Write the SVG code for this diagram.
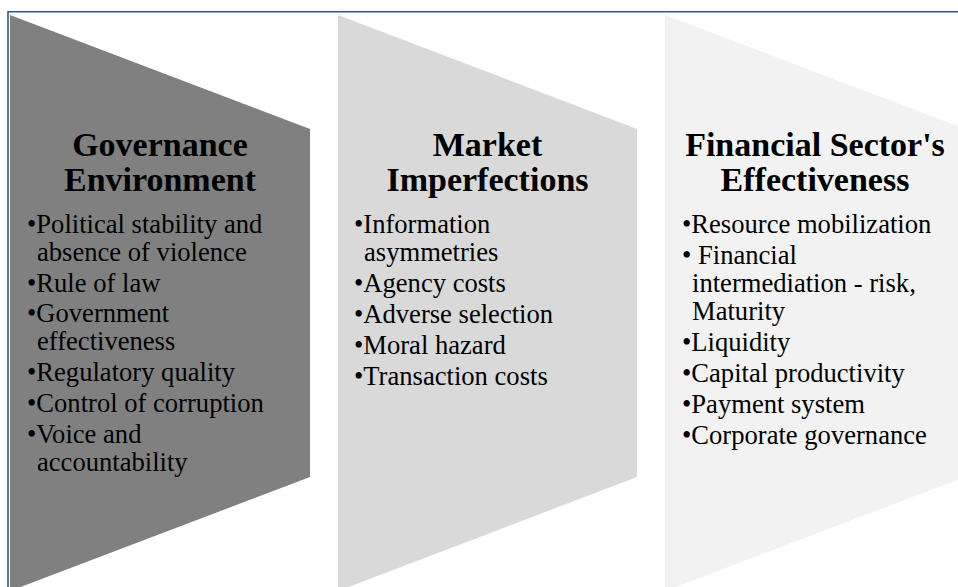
<svg xmlns="http://www.w3.org/2000/svg" width="958" height="587" viewBox="0 0 958 587">
  <style>
    .frame { fill: none; stroke: #2F5597; stroke-width: 1.6; }
    .title { font-family: "Liberation Serif", "Times New Roman", serif; font-weight: bold; font-size: 34px; fill: #000; text-anchor: middle; }
    .item { font-family: "Liberation Serif", "Times New Roman", serif; font-size: 26.6px; fill: #000; }
  </style>
  <rect width="958" height="587" fill="#FFFFFF"/>
  <!-- frame: top and left rules -->
  <path class="frame" d="M8,587 V11.7 H958"/>

  <!-- stage 1 -->
  <g id="governance">
    <polygon points="10,15 310,129 310,477 10,591" fill="#808080"/>
    <text class="title" x="160" y="156">Governance</text>
    <text class="title" x="160" y="191">Environment</text>
    <text class="item" x="27" y="233">•Political stability and</text>
    <text class="item" x="37" y="261">absence of violence</text>
    <text class="item" x="27" y="292">•Rule of law</text>
    <text class="item" x="27" y="322">•Government</text>
    <text class="item" x="37" y="350">effectiveness</text>
    <text class="item" x="27" y="381">•Regulatory quality</text>
    <text class="item" x="27" y="412">•Control of corruption</text>
    <text class="item" x="27" y="443">•Voice and</text>
    <text class="item" x="37" y="471">accountability</text>
  </g>

  <!-- stage 2 -->
  <g id="market">
    <polygon points="338,15 637,129 637,477 338,591" fill="#D9D9D9"/>
    <text class="title" x="487.5" y="156">Market</text>
    <text class="title" x="487.5" y="191">Imperfections</text>
    <text class="item" x="354" y="233">•Information</text>
    <text class="item" x="364" y="261">asymmetries</text>
    <text class="item" x="354" y="292">•Agency costs</text>
    <text class="item" x="354" y="323">•Adverse selection</text>
    <text class="item" x="354" y="354">•Moral hazard</text>
    <text class="item" x="354" y="385">•Transaction costs</text>
  </g>

  <!-- stage 3 -->
  <g id="financial">
    <polygon points="665,15 965,129 965,477 665,591" fill="#F2F2F2"/>
    <text class="title" x="815" y="156">Financial Sector's</text>
    <text class="title" x="815" y="191">Effectiveness</text>
    <text class="item" x="682" y="233">•Resource mobilization</text>
    <text class="item" x="682" y="264">• Financial</text>
    <text class="item" x="692" y="292">intermediation - risk,</text>
    <text class="item" x="692" y="320">Maturity</text>
    <text class="item" x="682" y="351">•Liquidity</text>
    <text class="item" x="682" y="382">•Capital productivity</text>
    <text class="item" x="682" y="413">•Payment system</text>
    <text class="item" x="682" y="444">•Corporate governance</text>
  </g>

  <g id="connectors"></g>
</svg>
